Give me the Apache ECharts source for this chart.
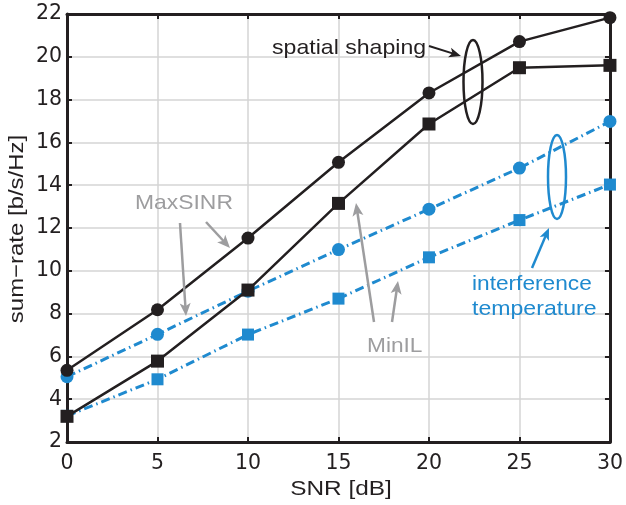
<!DOCTYPE html>
<html><head><meta charset="utf-8">
<script src="https://cdn.jsdelivr.net/npm/echarts@6/dist/echarts.min.js"></script>
<style>html,body{margin:0;padding:0;background:#fff}#c{width:626px;height:505px}</style>
</head><body><div id="c"></div>
<script>
var snr = [0, 5, 10, 15, 20, 25, 30];
var ssMaxSINR = [5.35, 8.18, 11.53, 15.07, 18.31, 20.71, 21.83];
var ssMinIL   = [3.2, 5.78, 9.1, 13.15, 16.86, 19.49, 19.6];
var itMaxSINR = [5.05, 7.03, 9.05, 10.99, 12.88, 14.8, 16.98];
var itMinIL   = [3.22, 4.93, 7.02, 8.7, 10.63, 12.37, 14.03];
var xTicks = [0, 5, 10, 15, 20, 25, 30];
var yTicks = [2, 4, 6, 8, 10, 12, 14, 16, 18, 20, 22];
var xName = 'SNR [dB]';
var yName = 'sum\u2212rate [b/s/Hz]';

var BLACK = '#231f20', BLUE = '#1f8acf', GRAY = '#9d9d9f';
var FONT = '"Liberation Sans", Arial, sans-serif';
var TICKFONT = '"DejaVu Sans", sans-serif';

function pair(a){ return snr.map(function(x,i){ return [x, a[i]]; }); }

var chart = echarts.init(document.getElementById('c'), null, {renderer:'canvas'});

function arrow(x1,y1,x2,y2,color,w,hl,hw){
  var dx=x2-x1, dy=y2-y1, L=Math.sqrt(dx*dx+dy*dy), ux=dx/L, uy=dy/L;
  var bx=x2-ux*hl, by=y2-uy*hl, px=-uy, py=ux;
  return [
    {type:'line', shape:{x1:x1,y1:y1,x2:x2-ux*hl*0.6,y2:y2-uy*hl*0.6}, style:{stroke:color,lineWidth:w}, z:50},
    {type:'polygon', shape:{points:[[x2,y2],[bx+px*hw,by+py*hw],[bx+ux*hl*0.25,by+uy*hl*0.25],[bx-px*hw,by-py*hw]]}, style:{fill:color}, z:50}
  ];
}
function label(txt,x,y,color,size,sx,align,rot){
  return {type:'text', x:x, y:y, scaleX:sx, rotation:rot||0, z:50,
    style:{text:txt, x:0, y:0, font:size+'px '+FONT, fill:color,
           textAlign:align||'left', textVerticalAlign:'middle', verticalAlign:'middle'}};
}

var tickAxis = {
  axisLine:{show:true, onZero:false, lineStyle:{color:BLACK, width:3}},
  axisTick:{show:true, inside:true, length:5, lineStyle:{color:BLACK, width:2}}
};

var option = {
  animation:false,
  backgroundColor:'#fff',
  grid:{left:67, right:15, top:14, bottom:63},
  xAxis:[{
    type:'value', min:0, max:30, interval:5,
    axisLine:tickAxis.axisLine, axisTick:tickAxis.axisTick,
    axisLabel:{fontFamily:TICKFONT, fontSize:20.5, color:BLACK, margin:11},
    splitLine:{show:true, lineStyle:{color:'#d4d4d4', width:1.5}}
  },{
    type:'value', position:'top', min:0, max:30, interval:5,
    axisLine:tickAxis.axisLine, axisTick:tickAxis.axisTick,
    axisLabel:{show:false}, splitLine:{show:false}
  }],
  yAxis:[{
    type:'value', min:2, max:22, interval:2,
    axisLine:tickAxis.axisLine, axisTick:tickAxis.axisTick,
    axisLabel:{fontFamily:TICKFONT, fontSize:20.5, color:BLACK, margin:5},
    splitLine:{show:true, lineStyle:{color:'#d4d4d4', width:1.5}}
  },{
    type:'value', position:'right', min:2, max:22, interval:2,
    axisLine:tickAxis.axisLine, axisTick:tickAxis.axisTick,
    axisLabel:{show:false}, splitLine:{show:false}
  }],
  series:[
    {type:'line', name:'IT MinIL', data:pair(itMinIL), symbol:'rect', symbolSize:12,
     lineStyle:{color:BLUE, width:3, type:[9,4,1.5,4]}, itemStyle:{color:BLUE}, z:3},
    {type:'line', name:'IT MaxSINR', data:pair(itMaxSINR), symbol:'circle', symbolSize:13,
     lineStyle:{color:BLUE, width:3, type:[9,4,1.5,4]}, itemStyle:{color:BLUE}, z:3},
    {type:'line', name:'SS MinIL', data:pair(ssMinIL), symbol:'rect', symbolSize:13,
     lineStyle:{color:BLACK, width:2.5}, itemStyle:{color:BLACK}, z:4},
    {type:'line', name:'SS MaxSINR', data:pair(ssMaxSINR), symbol:'circle', symbolSize:13,
     lineStyle:{color:BLACK, width:2.5}, itemStyle:{color:BLACK}, z:4}
  ],
  graphic:[]
};

var g = [];
// axis names
g.push(label(xName, 341, 489, BLACK, 21, 1.16, 'center'));
g.push(label(yName, 17, 229, BLACK, 21, 1.14, 'center', Math.PI/2));
// annotations
g.push(label('spatial shaping', 272, 48, BLACK, 21, 1.1));
g = g.concat(arrow(429,46,461,56,BLACK,2,12,5));
g.push({type:'ellipse', shape:{cx:473, cy:82, rx:9.5, ry:42}, style:{fill:null, stroke:BLACK, lineWidth:2.5}, z:50});
g.push({type:'ellipse', shape:{cx:557, cy:177, rx:9, ry:42}, style:{fill:null, stroke:BLUE, lineWidth:2.5}, z:50});
g = g.concat(arrow(532,268,549,228,BLUE,2.5,12,5));
g.push(label('interference', 472, 284, BLUE, 21, 1.08));
g.push(label('temperature', 472, 309, BLUE, 21, 1.1));
g.push(label('MinIL', 367, 346, GRAY, 21, 1.08));
g = g.concat(arrow(374,322,356,203,GRAY,2.5,13,5.5));
g = g.concat(arrow(392,322,398,281,GRAY,2.5,13,5.5));
g.push(label('MaxSINR', 135, 203, GRAY, 21, 1.09));
g = g.concat(arrow(206,222,230,248,GRAY,2.5,13,5.5));
g = g.concat(arrow(180,223,186,316,GRAY,2.5,13,5.5));
option.graphic = g;

chart.setOption(option);
</script></body></html>
